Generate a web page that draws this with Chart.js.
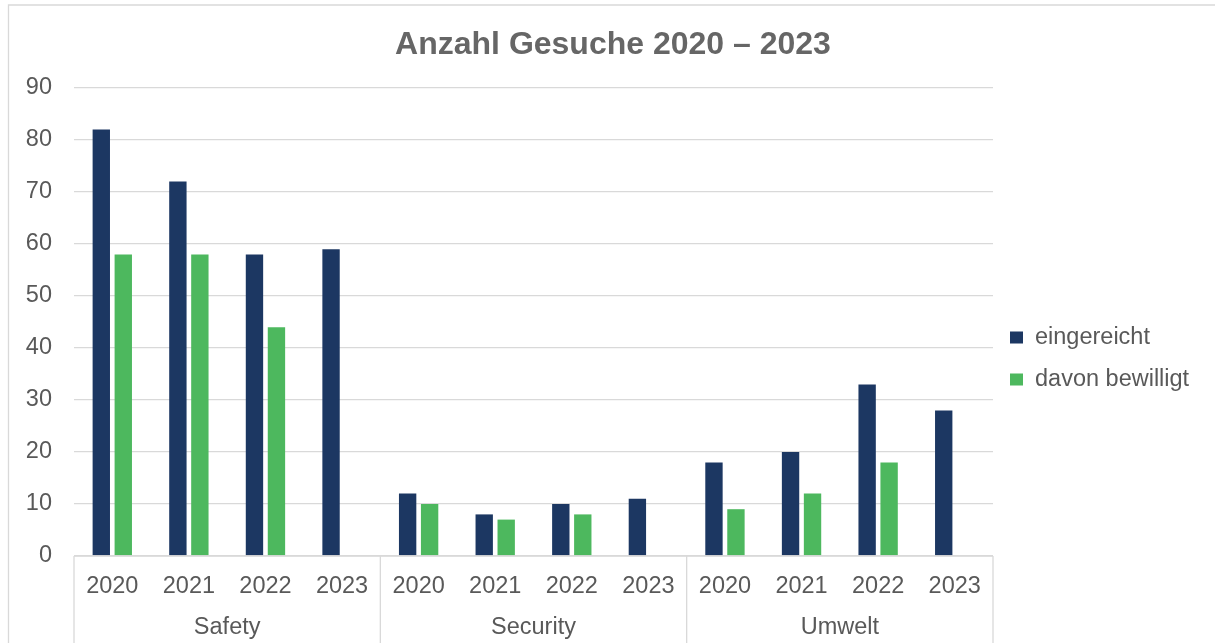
<!DOCTYPE html>
<html>
<head>
<meta charset="utf-8">
<script src="https://cdn.jsdelivr.net/npm/chart.js@4/dist/chart.umd.min.js"></script>
<style>
  html, body { margin: 0; padding: 0; background: #ffffff; }
  canvas { display: block; }
</style>
</head>
<body>
<canvas id="c" width="1215" height="643"></canvas>
<script>
const groups = ['Safety', 'Security', 'Umwelt'];
const years = ['2020', '2021', '2022', '2023'];
const seriesNames = ['eingereicht', 'davon bewilligt'];
const eingereicht = [82, 72, 58, 59, 12, 8, 10, 11, 18, 20, 33, 28];
const bewilligt = [58, 58, 44, null, 10, 7, 8, null, 9, 12, 18, null];
const yTicks = { min: 0, max: 90, step: 10 };
const titleText = 'Anzahl Gesuche 2020 – 2023';

const labels = [];
groups.forEach(g => years.forEach(y => labels.push([g, y])));

const FONT = '"Liberation Sans", Arial, sans-serif';
const FS = 23.5;
const TEXT = '#595959';
const GRID = '#d9d9d9';
const colors = ['#1c3762', '#4db85e'];

const deco = {
  id: 'deco',
  beforeDraw(chart) {
    const ctx = chart.ctx;
    ctx.save();
    ctx.strokeStyle = GRID;
    ctx.lineWidth = 1.3;
    ctx.beginPath();
    ctx.moveTo(8.5, chart.height);
    ctx.lineTo(8.5, 5);
    ctx.lineTo(chart.width, 5);
    ctx.stroke();
    ctx.restore();
  },
  afterDraw(chart) {
    const ctx = chart.ctx;
    const x = chart.scales.x;
    const area = chart.chartArea;
    ctx.save();
    // title
    ctx.fillStyle = '#666666';
    ctx.font = 'bold 32px ' + FONT;
    ctx.textAlign = 'center';
    ctx.textBaseline = 'middle';
    ctx.fillText(titleText, 613, 45);
    // axis line + separators
    ctx.strokeStyle = GRID;
    ctx.lineWidth = 1.3;
    ctx.beginPath();
    ctx.moveTo(area.left, area.bottom);
    ctx.lineTo(area.right, area.bottom);
    const n = years.length;
    const half = (x.getPixelForValue(1) - x.getPixelForValue(0)) / 2;
    for (let g = 0; g <= groups.length; g++) {
      const px = g < groups.length ? x.getPixelForValue(g * n) - half : x.getPixelForValue(g * n - 1) + half;
      ctx.moveTo(px, area.bottom);
      ctx.lineTo(px, chart.height);
    }
    ctx.stroke();
    // group labels
    ctx.fillStyle = TEXT;
    ctx.font = FS + 'px ' + FONT;
    ctx.textAlign = 'center';
    ctx.textBaseline = 'middle';
    groups.forEach((g, i) => {
      const a = x.getPixelForValue(i * n) - half;
      const b = x.getPixelForValue(i * n + n - 1) + half;
      ctx.fillText(g, (a + b) / 2, 628);
    });
    // legend
    chart.data.datasets.forEach((ds, i) => {
      const cy = 337.5 + i * 42;
      ctx.fillStyle = ds.backgroundColor;
      ctx.fillRect(1010, cy - 6, 13, 12);
      ctx.fillStyle = TEXT;
      ctx.textAlign = 'left';
      ctx.fillText(ds.label, 1035, cy);
    });
    ctx.restore();
  }
};

new Chart(document.getElementById('c'), {
  type: 'bar',
  data: {
    labels: labels,
    datasets: [
      { label: seriesNames[0], data: eingereicht, backgroundColor: colors[0] },
      { label: seriesNames[1], data: bewilligt, backgroundColor: colors[1] }
    ]
  },
  options: {
    responsive: false,
    devicePixelRatio: 1,
    animation: false,
    categoryPercentage: 0.574,
    barPercentage: 0.79,
    layout: { padding: { top: 88, right: 222, bottom: 0, left: 0 } },
    plugins: { legend: { display: false }, title: { display: false }, tooltip: { enabled: false } },
    scales: {
      x: {
        grid: { display: false },
        border: { display: false },
        ticks: {
          autoSkip: false, maxRotation: 0, minRotation: 0,
          color: TEXT, font: { family: FONT, size: FS }, padding: 8,
          callback: function (v, i) { return labels[i][1]; }
        },
        afterFit(scale) { scale.height = 87; }
      },
      y: {
        min: yTicks.min, max: yTicks.max,
        grid: { color: GRID, lineWidth: 1.3, drawTicks: false },
        border: { display: false },
        ticks: { stepSize: yTicks.step, color: TEXT, font: { family: FONT, size: FS }, padding: 22 },
        afterFit(scale) { scale.width = 74; }
      }
    }
  },
  plugins: [deco]
});
</script>
</body>
</html>
